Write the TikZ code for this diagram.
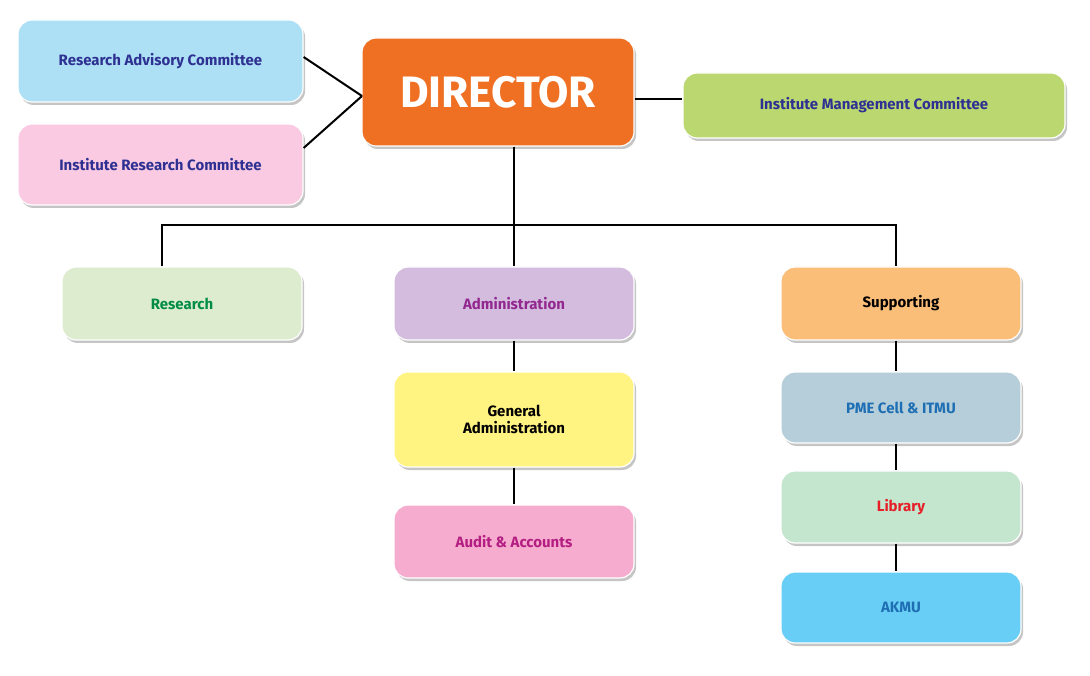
\documentclass[tikz,border=0pt]{standalone}
\usepackage{fontspec}
\setmainfont{Fira Sans}
\usetikzlibrary{shadows}
\definecolor{cRAC}{RGB}{173,224,245}
\definecolor{cIRC}{RGB}{250,202,226}
\definecolor{cDir}{RGB}{240,112,35}
\definecolor{cIMC}{RGB}{187,216,112}
\definecolor{cRes}{RGB}{221,236,207}
\definecolor{cAdm}{RGB}{212,188,222}
\definecolor{cSup}{RGB}{251,190,120}
\definecolor{cGA}{RGB}{255,244,130}
\definecolor{cAud}{RGB}{246,172,206}
\definecolor{cPME}{RGB}{182,206,217}
\definecolor{cLib}{RGB}{196,230,206}
\definecolor{cAK}{RGB}{105,206,245}
\definecolor{tNavy}{RGB}{46,49,146}
\definecolor{tGreen}{RGB}{0,140,70}
\definecolor{tPurple}{RGB}{146,39,143}
\definecolor{tMag}{RGB}{180,30,130}
\definecolor{tBlue}{RGB}{30,110,180}
\definecolor{tRed}{RGB}{230,30,40}
\begin{document}
\begin{tikzpicture}[x=1pt,y=-1pt,
  box/.style={rounded corners=14pt,draw=white,line width=1.2pt,
    drop shadow={shadow xshift=2pt,shadow yshift=-3pt,fill=black!45},
    font=\bfseries\fontsize{15}{17}\selectfont,align=center},
  conn/.style={line width=2pt,black}]
\useasboundingbox (0,0) rectangle (1090,676);
\newcommand{\bx}[6]{\node[box,fill=#5,text=#6,minimum width=#3pt-#1pt,minimum height=#4pt-#2pt] (n#1#2) at ({(#1+#3)/2},{(#2+#4)/2})}
\node[box,fill=cRAC,text=tNavy,minimum width=285pt,minimum height=82pt] (rac) at (160.5,61) {Research Advisory Committee};
\node[box,fill=cIRC,text=tNavy,minimum width=285pt,minimum height=81pt] (irc) at (160.5,164.5) {Institute Research Committee};
\node[box,fill=cDir,text=white,minimum width=272pt,minimum height=108pt,font=\bfseries\fontsize{44}{48}\selectfont] (dir) at (498,92) {DIRECTOR};
\node[box,fill=cIMC,text=tNavy,minimum width=382pt,minimum height=65pt] (imc) at (874,105.5) {Institute Management Committee};
\node[box,fill=cRes,text=tGreen,minimum width=240pt,minimum height=73pt] (res) at (182,303.5) {Research};
\node[box,fill=cAdm,text=tPurple,minimum width=240pt,minimum height=73pt] (adm) at (514,303.5) {Administration};
\node[box,fill=cSup,text=black,minimum width=240pt,minimum height=73pt] (sup) at (901,303.5) {Supporting};
\node[box,fill=cGA,text=black,minimum width=240pt,minimum height=95pt] (ga) at (514,419.5) {General\\Administration};
\node[box,fill=cAud,text=tMag,minimum width=240pt,minimum height=73pt] (aud) at (514,541.5) {Audit \& Accounts};
\node[box,fill=cPME,text=tBlue,minimum width=240pt,minimum height=71pt] (pme) at (901,407.5) {PME Cell \& ITMU};
\node[box,fill=cLib,text=tRed,minimum width=240pt,minimum height=72pt] (lib) at (901,507) {Library};
\node[box,fill=cAK,text=tBlue,minimum width=240pt,minimum height=71pt] (ak) at (901,607.5) {AKMU};
\coordinate (hub) at (362,96);
\coordinate (bus) at (514,225);
\begin{scope}[on background layer/.try]
\end{scope}
\draw[conn] (hub) -- (rac.east |- 0,57);
\draw[conn] (hub) -- (irc.east |- 0,148);
\draw[conn] (dir.east |- 0,99) -- (imc.west |- 0,99);
\draw[conn] (dir.south -| bus) -- (adm.north);
\draw[conn] (res.north -| 162,0) |- (bus) -| (sup.north -| 896,0);
\draw[conn] (adm) -- (ga);
\draw[conn] (ga) -- (aud);
\draw[conn] (sup.south -| 896,0) -- (pme.north -| 896,0);
\draw[conn] (pme.south -| 896,0) -- (lib.north -| 896,0);
\draw[conn] (lib.south -| 896,0) -- (ak.north -| 896,0);
\end{tikzpicture}
\end{document}
